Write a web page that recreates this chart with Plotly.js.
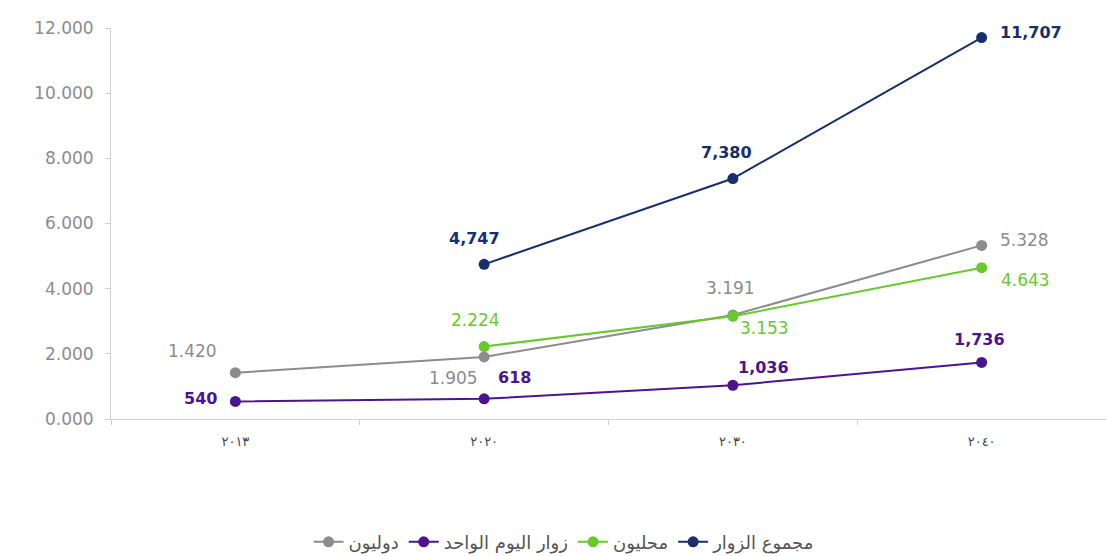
<!DOCTYPE html>
<html><head><meta charset="utf-8">
<script src="https://cdn.plot.ly/plotly-3.0.1.min.js"></script>
<style>body{margin:0;background:#fff}#c{width:1106px;height:556px}</style>
</head><body><div id="c"></div>
<script>
const years = ["٢٠١٣", "٢٠٢٠", "٢٠٣٠", "٢٠٤٠"];
const totalVisitors = [null, 4.747, 7.380, 11.707];
const totalLabels = ["", "4,747", "7,380", "11,707"];
const locals = [null, 2.224, 3.153, 4.643];
const localLabels = ["", "2.224", "3.153", "4.643"];
const dayVisitors = [0.540, 0.618, 1.036, 1.736];
const dayLabels = ["540", "618", "1,036", "1,736"];
const internationals = [1.420, 1.905, 3.191, 5.328];
const intlLabels = ["1.420", "1.905", "3.191", "5.328"];
const names = ["مجموع الزوار", "محليون", "زوار اليوم الواحد", "دوليون"];

const FONT = "'DejaVu Sans', sans-serif";
const series = [
  {name: names[3], y: internationals, text: intlLabels, color: "#8c8c8c", bold: false,
   off: [[-43, 22, "center"], [-31, -21, "center"], [-2, 27, "center"], [16, 5, "left"]]},
  {name: names[2], y: dayVisitors, text: dayLabels, color: "#4b1590", bold: true,
   off: [[-16, 3, "right"], [30, 21, "center"], [31, 18, "center"], [-2, 23, "center"]]},
  {name: names[1], y: locals, text: localLabels, color: "#68c92c", bold: false,
   off: [null, [-9, 27, "center"], [32, -12, "center"], [17, -12, "left"]]},
  {name: names[0], y: totalVisitors, text: totalLabels, color: "#172f6b", bold: true,
   off: [null, [-10, 26, "center"], [-6, 26, "center"], [16, 5, "left"]]}
];
const data = series.map(s => ({
  type: "scatter", mode: "lines+markers", name: s.name, x: years, y: s.y,
  line: {color: s.color, width: 2}, marker: {color: s.color, size: 11},
  cliponaxis: false, connectgaps: false, hoverinfo: "y"
}));
const annotations = [];
series.forEach(s => {
  s.y.forEach((v, i) => {
    if (v === null || !s.off[i]) return;
    const o = s.off[i];
    annotations.push({x: years[i], y: v, xref: "x", yref: "y", text: s.text[i], showarrow: false,
      xanchor: o[2], yanchor: "middle", xshift: o[0], yshift: o[1],
      font: {family: FONT, size: s.bold ? 16 : 17, color: s.color, weight: s.bold ? "bold" : "normal"}});
  });
});
const layout = {
  width: 1106, height: 556,
  margin: {l: 111, r: 0, t: 28, b: 137, autoexpand: false},
  paper_bgcolor: "#fff", plot_bgcolor: "#fff",
  showlegend: true, annotations: annotations,
  legend: {orientation: "h", xref: "container", yref: "container", x: 0.51, xanchor: "center",
           y: 0.025, yanchor: "middle",
           font: {family: FONT, size: 18, color: "#555"}},
  xaxis: {type: "category", range: [-0.5, 3.5], showgrid: false, zeroline: false,
          showline: true, linecolor: "#d0d0d0", linewidth: 1,
          ticks: "outside", tickson: "boundaries", ticklen: 5, tickcolor: "#d0d0d0",
          ticklabelstandoff: 10,
          tickfont: {family: FONT, size: 13, color: "#444"}},
  yaxis: {range: [0, 12], dtick: 2, tickformat: ".3f", showgrid: false, zeroline: false,
          showline: true, linecolor: "#d0d0d0", linewidth: 1,
          ticks: "outside", ticklen: 5, tickcolor: "#d0d0d0", ticklabelstandoff: 8,
          tickfont: {family: FONT, size: 17, color: "#8c8c8c"}}
};
Plotly.newPlot("c", data, layout, {displayModeBar: false, staticPlot: true});
</script></body></html>
